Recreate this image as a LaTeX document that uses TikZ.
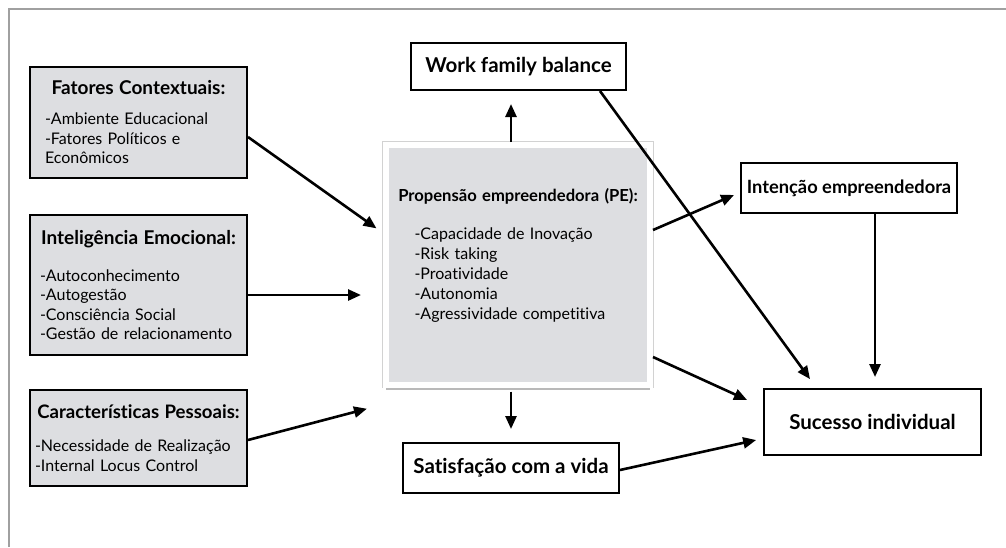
\documentclass[tikz,border=0pt]{standalone}
\usepackage{fontspec}
\setmainfont{Lato}[Ligatures=NoCommon]
\usetikzlibrary{arrows.meta,shadows}
\definecolor{boxgray}{RGB}{221,222,225}
\definecolor{framegray}{RGB}{160,160,160}
\tikzset{
  arr/.style={draw,line width=2.6pt,-{Triangle[length=13pt,width=11pt]}},
  leftbox/.style={draw,line width=2pt,fill=boxgray,text width=211pt,inner xsep=3pt,align=left,font=\fontsize{16}{19.5}\selectfont},
  outbox/.style={draw,line width=2pt,fill=white,font=\bfseries\fontsize{20.5}{23}\selectfont},
  pebox/.style={fill=boxgray,draw=white,line width=6pt,minimum width=264pt,minimum height=239.5pt,text width=243pt,inner xsep=10.5pt,align=left,font=\fontsize{16}{20}\selectfont,
    drop shadow={shadow xshift=0pt,shadow yshift=-5pt,opacity=0.55},preaction={draw=gray!35,line width=7.5pt}},
}
\newcommand{\boxhead}[2][19]{\noindent\hbox to\hsize{\hss\bfseries\fontsize{#1}{22}\selectfont #2\hss}\par}
\begin{document}
\begin{tikzpicture}[x=1pt,y=-1pt]
\useasboundingbox (0,0) rectangle (1006,547);
\draw[framegray,line width=2pt] (9,547) -- (9,9) -- (1006,9);

\node[leftbox,minimum height=111pt] (fat) at (138.5,122.5) {\boxhead{Fatores Contextuais:}\vspace{10.5pt}{\leftskip=12pt -Ambiente Educacional\\-Fatores Políticos e\\Econômicos\par}};
\node[leftbox,minimum height=140pt] (emo) at (138.5,285) {\boxhead{Inteligência Emocional:}\vspace{17.5pt}{\leftskip=7pt -Autoconhecimento\\-Autogestão\\-Consciência Social\\-Gestão de relacionamento\par}};
\node[leftbox,minimum height=96pt] (car) at (138.5,438) {\boxhead[18.6]{Características Pessoais:}\vspace{13.5pt}{\leftskip=2pt -Necessidade de Realização\\-Internal Locus Control\par}};

\node[pebox] (pe) at (518,264.75) {\boxhead[16.6]{Propensão empreendedora (PE):}\vspace{18pt}{\leftskip=18pt -Capacidade de Inovação\\-Risk taking\\-Proatividade\\-Autonomia\\-Agressividade competitiva\par}\vspace{19pt}\hrule height0pt width0pt};

\node[outbox,minimum width=215pt,minimum height=47pt] (wfb) at (518.5,66.5) {Work family balance};
\node[outbox,minimum width=216pt,minimum height=50pt] (sat) at (511,468) {Satisfação com a vida};
\node[outbox,minimum width=216pt,minimum height=50pt,font=\bfseries\fontsize{18.3}{21}\selectfont] (int) at (849,188) {Intenção empreendedora};
\node[outbox,minimum width=217pt,minimum height=66pt] (suc) at (872.5,422) {Sucesso individual};

% entradas
\path[arr,shorten >=8pt] ([yshift=-14.5pt]fat.east) -- ([yshift=31.75pt]pe.west);
\path[arr,shorten >=22pt] ([yshift=-10pt]emo.east) -- ([yshift=-10pt]emo.east -| pe.west);
\path[arr,shorten >=16.6pt] ([yshift=-2pt]car.east) -- ([yshift=-17pt]pe.south west);

% saidas
\path[arr,shorten >=13pt] ([xshift=-7pt]pe.north) -- ([xshift=-7pt]pe.north |- wfb.south);
\path[arr,shorten >=13pt,shorten <=4pt] ([xshift=-7pt]pe.south) -- (sat.north);
\path[arr,shorten >=6.5pt] ([yshift=34.75pt]pe.east) -- ([yshift=-4.4pt]int.west);
\path[arr,shorten >=17.6pt] ([yshift=-92.25pt]pe.east) -- ([yshift=14.8pt]suc.west);
\path[arr,shorten >=11pt] ([xshift=81.5pt]wfb.south) -- ([xshift=-56pt]suc.north);
\path[arr,shorten >=11pt] ([xshift=26pt]int.south) -- ([xshift=26pt]int.south |- suc.north);
\path[arr,shorten >=7pt] ([yshift=-2pt]sat.east) -- ([yshift=-16.5pt]suc.west);
\end{tikzpicture}
\end{document}
